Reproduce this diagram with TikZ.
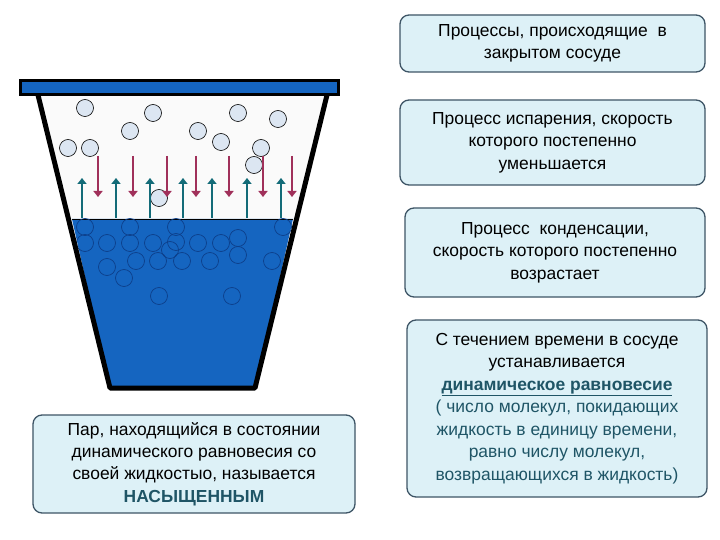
\documentclass[tikz,border=0pt]{standalone}
\usepackage{fontspec}
\setmainfont{Liberation Sans}
\usetikzlibrary{arrows.meta}
\definecolor{wat}{HTML}{1565C0}
\definecolor{wdark}{HTML}{0D3F8A}
\definecolor{boxf}{HTML}{DDF1F7}
\definecolor{boxd}{HTML}{3E5566}
\definecolor{tealt}{HTML}{1F5566}
\definecolor{redar}{HTML}{A0305A}
\definecolor{tealar}{HTML}{136B78}
\definecolor{gasf}{HTML}{DCE6F2}
\begin{document}
\begin{tikzpicture}[x=1bp,y=-1bp,
 tbox/.style={draw=boxd,line width=1.3bp,fill=boxf,rounded corners=9bp,align=center,font=\fontsize{17.5}{22.5}\selectfont,text=black,inner sep=0pt},
 gas/.style={circle,draw=black,fill=gasf,minimum size=17bp,inner sep=0pt,line width=0.6bp},
 liq/.style={circle,draw=wdark,minimum size=17bp,inner sep=0pt,line width=0.7bp},
 dn/.style={redar,line width=2.4bp,-{Triangle[length=6bp,width=9bp]}},
 up/.style={tealar,line width=2.4bp,-{Triangle[length=6bp,width=9bp]}}]
\useasboundingbox (0,0) rectangle (720,540);
\fill[white] (0,0) rectangle (720,540);
% beaker
\fill[black!2] (38,95) -- (327,95) -- (293,219) -- (72,219) -- cycle;
\fill[wat] (72,219) -- (293,219) -- (255,388) -- (110,388) -- cycle;
\draw[black,line width=0.8bp] (72,219) -- (293,219);
\foreach \x/\y in {85/227, 130/227, 176/227, 283/227, 85/243, 107/243, 130/243, 153/243, 176/242, 170/250, 198/243, 221/243, 238/238, 136/261, 158/261, 182/261, 210/261, 238/255, 272/261, 107/267, 124/278, 159/296, 232/296}
  \node[liq] at (\x,\y) {};
\draw[line width=5bp,line join=round] (38,95) -- (110,388) -- (255,388) -- (327,95);
\draw[line width=3bp,fill=wat] (20,81) rectangle (338,95);
\foreach \x/\y in {85/108, 153/113, 130/131, 238/113, 278/119, 198/131, 221/142, 68/148, 90/148, 261/148, 254/165, 159/198}
  \node[gas] at (\x,\y) {};
\foreach \x in {98,133,167,196,229,263,292} \draw[dn] (\x,156) -- (\x,197);
\foreach \x in {82,116,150,183,212,247,281} \draw[up] (\x,218) -- (\x,178);
% boxes
\node[tbox,minimum width=305bp,minimum height=57bp] (b1) at (552.5,43.5) {Процессы, происходящие~ в\\закрытом сосуде};
\node[tbox,minimum width=305bp,minimum height=85bp] (b2) at (552.5,142.5) {Процесс испарения, скорость\\которого постепенно\\уменьшается};
\node[tbox,minimum width=300bp,minimum height=89bp] (b3) at (555,252.5) {Процесс~ конденсации,\\скорость которого постепенно\\возрастает};
\node[tbox,minimum width=300bp,minimum height=177bp] (b4) at (557,408.5) {С течением времени в сосуде\\устанавливается\\\textcolor{tealt}{\textbf{\underline{динамическое равновесие}}}\\\textcolor{tealt}{( число молекул, покидающих}\\\textcolor{tealt}{жидкость в единицу времени,}\\\textcolor{tealt}{равно числу молекул,}\\\textcolor{tealt}{возвращающихся в жидкость)}};
\node[tbox,minimum width=322bp,minimum height=98bp] (b5) at (194,464) {Пар, находящийся в состоянии\\динамического равновесия со\\своей жидкостыо, называется\\\textcolor{tealt}{\textbf{НАСЫЩЕННЫМ}}};
\end{tikzpicture}
\end{document}
